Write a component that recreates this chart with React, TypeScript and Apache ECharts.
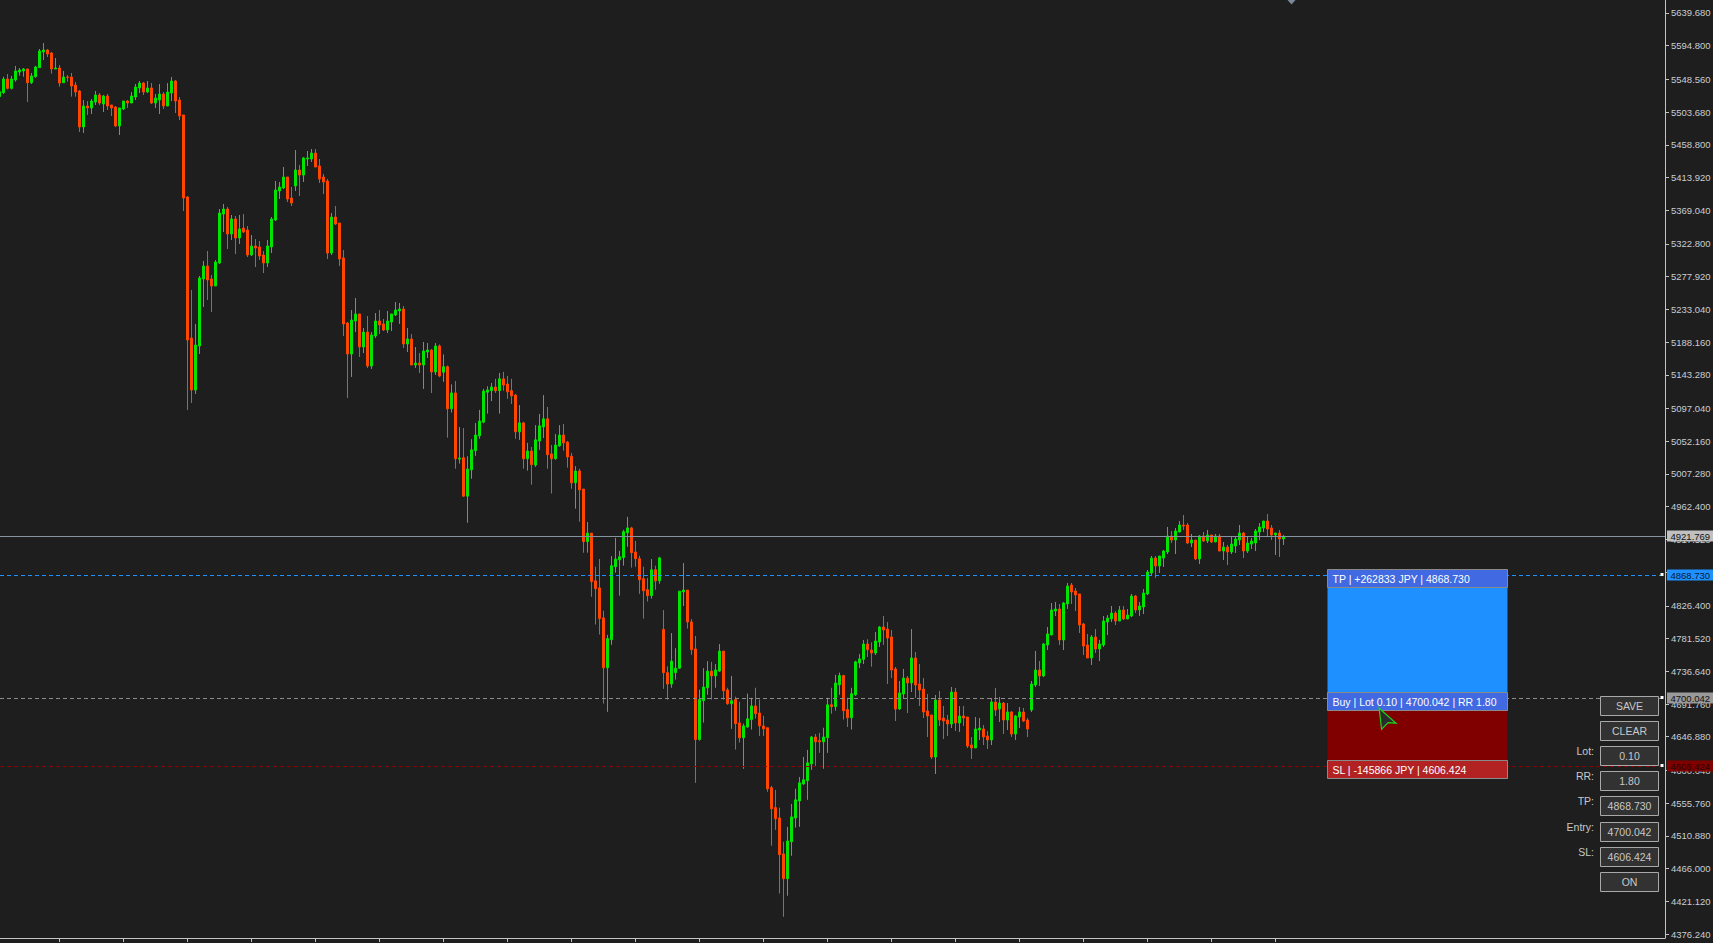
import React, { useEffect, useRef } from "react";
import * as echarts from "echarts";

// ---- candle data (bar index = position in arrays) ----
const OPEN = [
  5524.9, 5530.4, 5549.1, 5536.3, 5547.8, 5558.7, 5560.2, 5562.9, 5544.1, 5552.3,
  5564.7, 5586.2, 5588.9, 5584.8, 5562.9, 5564.2, 5544.1, 5551.9, 5551.9, 5540.9,
  5532.7, 5483.3, 5512.1, 5509.4, 5517.6, 5527.2, 5514.8, 5525.8, 5513.5, 5510.7,
  5484.7, 5508.0, 5518.9, 5516.2, 5524.4, 5536.8, 5543.6, 5531.3, 5536.8, 5516.2,
  5520.3, 5528.6, 5512.1, 5529.9, 5546.4, 5520.3, 5499.8, 5387.3, 5193.8, 5122.5,
  5182.9, 5274.8, 5292.6, 5274.8, 5265.2, 5296.7, 5363.9, 5370.8, 5336.5, 5357.1,
  5331.0, 5344.7, 5342.0, 5307.7, 5320.0, 5318.7, 5307.7, 5296.7, 5318.7, 5355.7,
  5395.5, 5399.6, 5414.7, 5385.9, 5402.4, 5424.3, 5417.4, 5439.4, 5439.4, 5447.6,
  5429.8, 5414.7, 5409.2, 5310.4, 5359.8, 5351.6, 5303.6, 5214.4, 5171.9, 5217.2,
  5226.8, 5181.5, 5202.0, 5155.4, 5196.6, 5217.2, 5213.1, 5204.8, 5215.8, 5225.4,
  5230.9, 5233.6, 5185.6, 5192.5, 5156.8, 5159.5, 5156.8, 5174.6, 5177.4, 5147.2,
  5182.9, 5146.9, 5154.5, 5096.7, 5118.5, 5027.7, 5029.7, 4976.9, 5013.0, 5039.3,
  5059.6, 5078.4, 5119.5, 5121.6, 5126.6, 5121.6, 5137.8, 5130.7, 5121.6, 5115.5,
  5065.2, 5077.4, 5028.2, 5038.8, 5019.5, 5052.5, 5071.8, 5083.0, 5034.8, 5028.2,
  5046.0, 5060.7, 5051.0, 5031.7, 4995.2, 5011.4, 4986.6, 4914.5, 4926.2, 4860.7,
  4851.0, 4809.9, 4741.4, 4780.0, 4880.0, 4889.6, 4892.7, 4926.7, 4933.3, 4900.3,
  4891.1, 4863.7, 4848.5, 4840.4, 4875.9, 4860.7, 4794.2, 4734.8, 4719.1, 4734.8,
  4740.9, 4845.5, 4848.0, 4804.4, 4767.3, 4643.0, 4696.3, 4714.0, 4736.9, 4730.3,
  4736.9, 4764.3, 4711.0, 4692.2, 4697.8, 4665.8, 4645.5, 4660.2, 4670.4, 4689.1,
  4679.5, 4661.7, 4659.2, 4577.0, 4549.6, 4535.4, 4486.1, 4452.1, 4502.9, 4535.4,
  4558.7, 4582.1, 4586.6, 4609.5, 4646.5, 4641.5, 4639.9, 4645.5, 4690.7, 4688.1,
  4718.1, 4730.8, 4684.1, 4672.9, 4704.4, 4748.0, 4753.0, 4774.1, 4765.8, 4761.7,
  4776.8, 4797.4, 4794.6, 4783.7, 4739.8, 4684.9, 4705.5, 4727.4, 4720.6, 4754.9,
  4719.2, 4712.3, 4682.2, 4676.7, 4619.0, 4697.2, 4672.5, 4669.8, 4664.3, 4708.2,
  4665.7, 4675.3, 4673.9, 4635.5, 4631.4, 4656.1, 4657.5, 4647.9, 4642.4, 4694.5,
  4684.9, 4693.1, 4669.8, 4680.8, 4650.6, 4673.9, 4680.8, 4669.8, 4683.5, 4717.8,
  4738.4, 4730.2, 4772.7, 4786.4, 4819.3, 4822.1, 4779.6, 4828.9, 4855.0, 4846.8,
  4842.7, 4801.5, 4772.7, 4754.9, 4783.7, 4767.2, 4772.7, 4804.2, 4808.4, 4816.6,
  4805.6, 4820.7, 4808.4, 4812.5, 4839.9, 4820.7, 4824.8, 4842.7, 4871.5, 4892.0,
  4881.1, 4892.0, 4900.3, 4922.2, 4916.7, 4927.7, 4937.3, 4937.3, 4912.6, 4916.7,
  4890.7, 4922.2, 4915.4, 4923.6, 4914.0, 4922.2, 4901.6, 4907.1, 4900.3, 4908.5,
  4916.7, 4926.3, 4901.6, 4911.2, 4912.6, 4927.7, 4933.2, 4942.8, 4933.2, 4923.6,
  4926.3, 4918.1,
];
const HIGH = [
  5534.0, 5552.3, 5556.0, 5553.3, 5567.0, 5564.2, 5564.2, 5562.9, 5557.4, 5567.0,
  5590.3, 5598.5, 5590.3, 5586.2, 5577.9, 5568.3, 5560.2, 5554.6, 5557.4, 5545.0,
  5534.0, 5520.3, 5518.9, 5521.7, 5532.7, 5529.9, 5527.2, 5528.6, 5513.5, 5512.1,
  5509.4, 5518.9, 5520.3, 5531.3, 5542.3, 5546.4, 5545.0, 5546.4, 5543.6, 5528.6,
  5542.3, 5531.3, 5543.6, 5551.9, 5547.8, 5524.4, 5499.8, 5388.6, 5259.7, 5213.1,
  5278.9, 5299.5, 5313.2, 5280.3, 5300.8, 5370.8, 5377.7, 5373.5, 5362.6, 5361.2,
  5362.6, 5363.9, 5347.5, 5335.1, 5329.6, 5326.9, 5313.2, 5328.3, 5359.8, 5409.2,
  5407.8, 5428.4, 5414.7, 5401.0, 5451.7, 5431.2, 5442.1, 5450.4, 5453.1, 5453.1,
  5439.4, 5418.8, 5411.9, 5365.3, 5374.9, 5351.6, 5314.5, 5215.8, 5232.2, 5248.7,
  5226.8, 5207.6, 5224.0, 5202.0, 5228.1, 5232.2, 5219.9, 5230.9, 5226.8, 5243.2,
  5241.8, 5237.7, 5207.6, 5199.3, 5181.5, 5173.2, 5188.4, 5187.0, 5178.7, 5187.0,
  5185.0, 5171.3, 5156.1, 5130.2, 5134.8, 5071.8, 5070.3, 5031.7, 5055.1, 5077.4,
  5095.2, 5124.1, 5127.6, 5132.2, 5137.8, 5145.9, 5147.4, 5141.9, 5137.8, 5117.0,
  5101.8, 5078.9, 5050.0, 5044.4, 5074.4, 5089.6, 5115.5, 5099.2, 5047.0, 5062.2,
  5074.4, 5075.9, 5052.5, 5036.3, 5018.0, 5014.5, 4986.6, 4941.4, 4926.2, 4880.0,
  4890.6, 4819.6, 4786.6, 4894.7, 4919.6, 4901.8, 4930.7, 4948.5, 4934.8, 4915.5,
  4895.2, 4880.0, 4864.7, 4890.6, 4881.5, 4893.7, 4820.6, 4743.5, 4789.1, 4768.3,
  4846.5, 4885.1, 4848.0, 4808.4, 4785.1, 4711.5, 4740.9, 4750.6, 4749.6, 4746.5,
  4773.9, 4764.3, 4714.0, 4730.3, 4701.8, 4694.7, 4664.8, 4705.9, 4700.3, 4714.0,
  4697.8, 4675.5, 4659.2, 4579.5, 4573.9, 4549.6, 4502.9, 4523.2, 4554.7, 4575.5,
  4591.7, 4619.1, 4628.8, 4648.0, 4650.6, 4652.1, 4659.2, 4700.3, 4714.0, 4731.8,
  4734.8, 4731.8, 4700.3, 4714.0, 4751.1, 4760.2, 4779.6, 4780.5, 4776.4, 4790.5,
  4798.8, 4812.5, 4804.2, 4793.3, 4742.5, 4723.3, 4739.8, 4730.2, 4794.6, 4763.1,
  4746.6, 4727.4, 4705.5, 4676.7, 4704.1, 4709.6, 4689.0, 4676.7, 4715.1, 4713.7,
  4689.0, 4689.0, 4673.9, 4646.5, 4673.9, 4672.5, 4662.9, 4654.7, 4700.0, 4713.7,
  4701.4, 4694.5, 4693.1, 4682.2, 4676.7, 4687.6, 4686.3, 4672.5, 4723.3, 4764.5,
  4750.7, 4775.4, 4797.4, 4830.3, 4831.7, 4828.9, 4831.7, 4857.8, 4857.8, 4850.9,
  4842.7, 4802.9, 4787.8, 4786.4, 4794.6, 4779.6, 4812.5, 4813.8, 4826.2, 4819.3,
  4826.2, 4826.2, 4822.1, 4842.7, 4841.3, 4831.7, 4849.5, 4875.6, 4894.8, 4894.8,
  4894.8, 4903.0, 4934.6, 4929.1, 4933.2, 4942.8, 4951.0, 4940.0, 4925.0, 4916.7,
  4923.6, 4927.7, 4930.5, 4923.6, 4925.0, 4925.0, 4914.0, 4909.9, 4920.9, 4920.9,
  4937.3, 4927.7, 4920.9, 4919.5, 4931.8, 4940.0, 4942.8, 4952.4, 4937.3, 4926.3,
  4930.5, 4923.6,
];
const LOW = [
  5523.0, 5528.6, 5534.9, 5534.9, 5545.5, 5553.7, 5552.3, 5517.6, 5542.3, 5551.0,
  5564.7, 5575.2, 5579.3, 5556.5, 5562.9, 5538.6, 5543.6, 5545.5, 5524.9, 5524.9,
  5476.4, 5475.1, 5499.8, 5501.1, 5513.5, 5513.5, 5503.9, 5506.6, 5498.4, 5483.3,
  5472.3, 5506.6, 5509.4, 5516.2, 5520.3, 5529.9, 5527.2, 5529.9, 5514.8, 5509.4,
  5501.1, 5508.0, 5512.1, 5518.9, 5502.5, 5492.9, 5368.1, 5095.1, 5104.7, 5117.0,
  5171.9, 5236.4, 5246.0, 5229.5, 5265.2, 5295.4, 5339.3, 5315.9, 5328.3, 5309.0,
  5322.8, 5337.9, 5304.9, 5306.3, 5291.2, 5300.8, 5283.0, 5291.2, 5310.4, 5354.3,
  5384.5, 5398.2, 5380.4, 5374.9, 5395.5, 5388.6, 5407.8, 5429.8, 5435.3, 5428.4,
  5406.5, 5391.4, 5302.2, 5307.7, 5348.9, 5292.6, 5196.6, 5111.5, 5140.4, 5202.0,
  5167.8, 5173.2, 5152.7, 5151.3, 5193.8, 5199.3, 5203.4, 5200.7, 5203.4, 5224.0,
  5213.1, 5180.1, 5174.6, 5156.8, 5152.7, 5145.8, 5123.9, 5166.4, 5118.4, 5143.1,
  5140.0, 5133.7, 5057.1, 5091.6, 5014.5, 5021.6, 4975.9, 4940.4, 5000.8, 5032.2,
  5055.6, 5076.9, 5090.1, 5107.3, 5118.5, 5090.1, 5121.6, 5110.4, 5103.3, 5055.6,
  5054.1, 5014.5, 5011.9, 4992.6, 5017.0, 5040.4, 5056.6, 5014.5, 4980.5, 5026.7,
  5044.4, 5039.3, 5016.0, 4987.1, 4959.7, 4941.9, 4899.3, 4899.3, 4838.9, 4800.8,
  4787.1, 4692.2, 4681.0, 4772.9, 4871.9, 4840.4, 4881.5, 4907.4, 4878.9, 4880.0,
  4842.9, 4808.9, 4832.3, 4836.3, 4848.5, 4856.6, 4712.5, 4697.8, 4714.0, 4725.2,
  4739.9, 4826.2, 4795.2, 4759.2, 4583.6, 4641.5, 4666.3, 4704.4, 4697.8, 4714.0,
  4735.8, 4697.8, 4690.7, 4657.7, 4629.3, 4638.9, 4602.9, 4659.2, 4656.7, 4671.9,
  4648.0, 4648.0, 4571.4, 4497.3, 4519.1, 4431.8, 4399.9, 4428.8, 4483.6, 4522.2,
  4523.2, 4581.1, 4560.3, 4601.3, 4606.9, 4624.7, 4602.9, 4624.7, 4678.5, 4682.5,
  4704.4, 4670.4, 4660.2, 4656.7, 4702.8, 4740.9, 4746.6, 4756.2, 4743.0, 4758.9,
  4770.0, 4772.7, 4719.2, 4727.4, 4668.4, 4683.5, 4698.6, 4679.4, 4708.2, 4700.0,
  4689.0, 4672.5, 4646.5, 4616.3, 4595.7, 4661.6, 4643.7, 4647.9, 4658.8, 4654.7,
  4653.4, 4661.6, 4631.4, 4616.3, 4631.4, 4642.4, 4635.5, 4630.0, 4635.5, 4675.3,
  4667.1, 4650.6, 4656.1, 4646.5, 4642.4, 4658.8, 4667.1, 4646.5, 4680.8, 4715.1,
  4716.4, 4728.8, 4765.8, 4786.4, 4812.5, 4772.7, 4765.8, 4822.1, 4828.9, 4819.3,
  4789.2, 4758.9, 4754.9, 4745.3, 4761.7, 4750.7, 4770.0, 4786.4, 4804.2, 4800.1,
  4805.6, 4807.0, 4808.4, 4811.1, 4816.6, 4812.5, 4815.2, 4841.3, 4867.4, 4864.6,
  4871.5, 4879.7, 4897.5, 4912.6, 4897.5, 4927.7, 4930.5, 4911.2, 4907.1, 4889.3,
  4883.8, 4914.0, 4912.6, 4912.6, 4914.0, 4901.6, 4889.3, 4882.4, 4897.5, 4898.9,
  4909.9, 4892.0, 4898.9, 4904.4, 4901.6, 4916.7, 4927.7, 4920.9, 4916.7, 4896.2,
  4893.4, 4909.9,
];
const CLOSE = [
  5531.8, 5549.1, 5536.3, 5549.1, 5560.2, 5561.5, 5562.9, 5544.1, 5553.3, 5565.6,
  5587.6, 5588.9, 5583.4, 5562.9, 5564.2, 5543.6, 5551.9, 5551.4, 5539.5, 5531.3,
  5483.3, 5512.1, 5509.4, 5518.9, 5527.2, 5516.2, 5525.8, 5512.1, 5509.4, 5484.7,
  5509.4, 5518.9, 5516.2, 5525.8, 5538.2, 5543.6, 5531.3, 5536.8, 5516.2, 5523.1,
  5528.6, 5512.1, 5531.3, 5546.4, 5518.9, 5498.4, 5385.9, 5191.1, 5122.5, 5184.2,
  5276.2, 5292.6, 5273.4, 5265.2, 5298.1, 5365.3, 5370.8, 5336.5, 5357.1, 5331.0,
  5343.4, 5339.3, 5307.7, 5320.0, 5317.3, 5306.3, 5296.7, 5320.0, 5357.1, 5396.9,
  5401.0, 5414.7, 5384.5, 5379.0, 5424.3, 5417.4, 5440.8, 5440.8, 5447.6, 5428.4,
  5411.9, 5407.8, 5310.4, 5359.8, 5350.2, 5302.2, 5213.1, 5171.9, 5218.5, 5226.8,
  5181.5, 5202.0, 5155.4, 5197.9, 5217.2, 5211.7, 5204.8, 5217.2, 5226.8, 5232.2,
  5233.6, 5185.6, 5192.5, 5156.8, 5159.5, 5156.8, 5176.0, 5177.4, 5147.2, 5182.9,
  5141.7, 5154.5, 5096.7, 5118.5, 5028.2, 5029.2, 4976.9, 5014.0, 5040.4, 5060.7,
  5079.9, 5121.0, 5122.6, 5126.6, 5121.6, 5137.8, 5129.2, 5120.0, 5114.5, 5065.2,
  5077.4, 5028.2, 5038.8, 5020.1, 5054.1, 5073.3, 5083.0, 5033.8, 5028.2, 5047.0,
  5060.7, 5050.0, 5030.7, 4995.2, 5011.4, 4985.5, 4914.5, 4926.2, 4859.7, 4850.0,
  4808.9, 4741.4, 4781.5, 4881.5, 4890.6, 4893.7, 4928.2, 4933.3, 4899.3, 4891.1,
  4862.2, 4847.0, 4840.4, 4875.9, 4860.7, 4892.2, 4734.8, 4719.1, 4750.6, 4740.9,
  4846.5, 4848.0, 4804.4, 4766.3, 4643.0, 4697.8, 4715.0, 4736.9, 4730.3, 4738.4,
  4764.3, 4710.0, 4692.2, 4696.3, 4664.8, 4645.5, 4661.7, 4671.4, 4689.1, 4678.5,
  4661.7, 4657.7, 4575.5, 4548.1, 4534.4, 4485.1, 4452.1, 4503.9, 4536.9, 4560.3,
  4583.6, 4587.7, 4611.0, 4646.5, 4639.9, 4639.9, 4646.5, 4690.7, 4688.1, 4720.6,
  4730.8, 4682.5, 4672.9, 4705.9, 4749.6, 4753.6, 4774.1, 4766.3, 4761.7, 4778.2,
  4797.4, 4793.3, 4782.3, 4738.4, 4684.9, 4706.9, 4727.4, 4720.6, 4754.9, 4717.8,
  4710.9, 4680.8, 4675.3, 4619.0, 4697.2, 4669.8, 4668.4, 4664.3, 4708.2, 4665.7,
  4675.3, 4672.5, 4634.1, 4631.4, 4657.5, 4658.8, 4646.5, 4642.4, 4694.5, 4683.5,
  4693.1, 4669.8, 4680.8, 4650.6, 4675.3, 4680.8, 4668.4, 4657.5, 4719.2, 4738.4,
  4730.2, 4774.1, 4787.8, 4820.7, 4822.1, 4779.6, 4830.3, 4853.6, 4845.4, 4841.3,
  4800.1, 4771.3, 4754.9, 4783.7, 4767.2, 4774.1, 4805.6, 4809.7, 4816.6, 4805.6,
  4820.7, 4808.4, 4813.8, 4839.9, 4820.7, 4826.2, 4844.0, 4872.8, 4892.0, 4881.1,
  4894.8, 4901.6, 4922.2, 4916.7, 4929.1, 4937.3, 4935.9, 4912.6, 4916.7, 4890.7,
  4922.2, 4915.4, 4923.6, 4914.0, 4922.2, 4901.6, 4907.1, 4900.3, 4911.2, 4918.1,
  4926.3, 4901.6, 4912.6, 4915.4, 4929.1, 4934.6, 4942.8, 4931.8, 4923.6, 4926.3,
  4918.1, 4921.769,
];

// ---- axes ----
const Y_MIN = 4370.76;
const Y_MAX = 5657.51;
const X_MIN = 0.125;
const X_MAX = 416.375;
const Y_TICKS = [
  5639.68, 5594.8, 5548.56, 5503.68, 5458.8, 5413.92, 5369.04, 5322.8, 5277.92,
  5233.04, 5188.16, 5143.28, 5097.04, 5052.16, 5007.28, 4962.4, 4917.52, 4872.64,
  4826.4, 4781.52, 4736.64, 4691.76, 4646.88, 4600.64, 4555.76, 4510.88, 4466.0,
  4421.12, 4376.24,
];
const X_TICKS = [15, 31, 47, 63, 79, 95, 111, 127, 143, 159, 175, 191, 207, 223, 239, 255, 271, 287, 303, 319];

// ---- trade levels ----
const PRICE_BID = 4921.769;
const PRICE_TP = 4868.73;
const PRICE_ENTRY = 4700.042;
const PRICE_SL = 4606.424;
const BOX_FROM_BAR = 331.9;
const BOX_TO_BAR = 376.9;
const SHIFT_MARK_BAR = 323;
const CURSOR_BAR = 344.9;
const CURSOR_PRICE = 4686.0;

const TP_TEXT = "TP | +262833 JPY | 4868.730";
const ENTRY_TEXT = "Buy | Lot 0.10 | 4700.042 | RR 1.80";
const SL_TEXT = "SL | -145866 JPY | 4606.424";

const PANEL_LABELS = ["", "", "Lot:", "RR:", "TP:", "Entry:", "SL:", ""];
const PANEL_VALUES = ["SAVE", "CLEAR", "0.10", "1.80", "4868.730", "4700.042", "4606.424", "ON"];

const BG = "#1e1e1e";
const BULL = "#00e400";
const BEAR = "#ff4500";
const AXIS = "#c4c4c4";
const LABEL = "#c8cdd2";
const FONT = "'Liberation Sans', Arial, sans-serif";

export default function App() {
  const ref = useRef<HTMLDivElement>(null);

  useEffect(() => {
    document.body.style.margin = "0";
    document.body.style.background = BG;
    const chart = echarts.init(ref.current as HTMLDivElement, null, { renderer: "svg" });
    const candles = OPEN.map((o, i) => [i, o, CLOSE[i], LOW[i], HIGH[i]]);

    const hLine = (v: number, color: string, type: any) => ({
      yAxis: v,
      lineStyle: { color, type, width: 1 },
    });

    chart.setOption({
      animation: false,
      backgroundColor: BG,
      grid: { left: 0, top: 0, width: 1665, height: 938, containLabel: false, outerBoundsMode: "none" },
      xAxis: {
        type: "value",
        min: X_MIN,
        max: X_MAX,
        position: "bottom",
        axisLine: { show: true, lineStyle: { color: AXIS, width: 1 } },
        axisTick: { show: true, customValues: X_TICKS, length: 4, lineStyle: { color: AXIS } },
        axisLabel: { show: false },
        splitLine: { show: false },
      },
      yAxis: {
        type: "value",
        min: Y_MIN,
        max: Y_MAX,
        position: "right",
        scale: true,
        axisLine: { show: true, lineStyle: { color: AXIS, width: 1 } },
        axisTick: { show: true, customValues: Y_TICKS, length: 4, lineStyle: { color: AXIS } },
        axisLabel: {
          show: true,
          customValues: Y_TICKS,
          formatter: (v: number) => v.toFixed(3),
          color: LABEL,
          fontSize: 9.5,
          fontFamily: FONT,
          margin: 6,
        },
        splitLine: { show: false },
      },
      series: [
        {
          type: "candlestick",
          data: candles,
          barWidth: 2,
          itemStyle: {
            color: BULL,
            color0: BEAR,
            borderColor: BULL,
            borderColor0: BEAR,
            borderWidth: 1,
          },
          markLine: {
            silent: true,
            symbol: ["none", "none"],
            label: { show: false },
            emphasis: { disabled: true },
            data: [
              hLine(PRICE_BID, "#8593a1", "solid"),
              hLine(PRICE_TP, "#1e90ff", [4, 3]),
              hLine(PRICE_ENTRY, "#8c8c8c", [4, 3]),
              hLine(PRICE_SL, "#8b0000", [4, 3]),
            ],
          },
        },
      ],
    });

    const yp = (v: number) => chart.convertToPixel({ yAxisIndex: 0 }, v) as number;
    const xp = (v: number) => chart.convertToPixel({ xAxisIndex: 0 }, v) as number;

    const g: any[] = [];
    // trade box
    const xL = Math.round(xp(BOX_FROM_BAR)) + 0.5;
    const xR = Math.round(xp(BOX_TO_BAR)) + 0.5;
    const w = xR - xL;
    const yTP = yp(PRICE_TP);
    const yEn = yp(PRICE_ENTRY);
    const ySL = yp(PRICE_SL);
    const barH = 18;
    const top = (y: number) => Math.round(y - 6) + 0.5;
    g.push({ type: "rect", shape: { x: xL, y: top(yTP) + barH, width: w, height: top(yEn) - top(yTP) - barH }, style: { fill: "#1e90ff" }, z: 10 });
    g.push({ type: "rect", shape: { x: xL, y: top(yEn) + barH, width: w, height: top(ySL) - top(yEn) - barH }, style: { fill: "#800000" }, z: 10 });
    const bars: [number, string, string][] = [
      [yTP, "#4169e1", TP_TEXT],
      [yEn, "#4169e1", ENTRY_TEXT],
      [ySL, "#b22222", SL_TEXT],
    ];
    bars.forEach(([y, fill, text]) => {
      g.push({ type: "rect", shape: { x: xL, y: top(y), width: w, height: barH }, style: { fill, stroke: "#8a8a8a", lineWidth: 1 }, z: 11 });
      g.push({
        type: "text", x: xL + 5, y: top(y) + barH / 2 + 0.5, z: 12,
        style: { text, fill: "#ffffff", font: `10.5px ${FONT}`, textVerticalAlign: "middle", textAlign: "left" },
      });
    });

    // right-side price boxes
    const priceBoxes: [number, string, string][] = [
      [PRICE_BID, "#c0c0c0", "#111111"],
      [PRICE_TP, "#1e90ff", "#0a1a33"],
      [PRICE_ENTRY, "#9a9a9a", "#111111"],
      [PRICE_SL, "#800000", "#2a0000"],
    ];
    priceBoxes.forEach(([v, fill, tc]) => {
      const y = yp(v);
      g.push({ type: "rect", shape: { x: 1667, y: Math.round(y) - 5.5, width: 46, height: 11 }, style: { fill }, z: 20 });
      g.push({
        type: "text", x: 1670.5, y: Math.round(y) + 0.5, z: 21,
        style: { text: v.toFixed(3), fill: tc, font: `9.5px ${FONT}`, textVerticalAlign: "middle", textAlign: "left" },
      });
    });
    // small handles at line ends
    [PRICE_TP, PRICE_ENTRY, PRICE_SL].forEach((v) => {
      const y = Math.round(yp(v));
      g.push({ type: "rect", shape: { x: 1660.5, y: y - 2, width: 3, height: 3 }, style: { fill: "#ffffff" }, z: 20 });
    });

    // control panel
    PANEL_VALUES.forEach((val, i) => {
      const y0 = 696 + i * 25.1;
      g.push({ type: "rect", shape: { x: 1600.5, y: Math.round(y0) + 0.5, width: 58, height: 19 }, style: { fill: "#323232", stroke: "#a8a8a8", lineWidth: 1 }, z: 20 });
      g.push({
        type: "text", x: 1629.5, y: Math.round(y0) + 10, z: 21,
        style: { text: val, fill: "#c8c8c8", font: `10.5px ${FONT}`, textAlign: "center", textVerticalAlign: "middle" },
      });
      if (PANEL_LABELS[i]) {
        g.push({
          type: "text", x: 1594, y: Math.round(y0) + 5, z: 21,
          style: { text: PANEL_LABELS[i], fill: "#c8c8c8", font: `10.5px ${FONT}`, textAlign: "right", textVerticalAlign: "middle" },
        });
      }
    });

    // shift marker at top
    const sx = xp(SHIFT_MARK_BAR);
    g.push({ type: "polygon", shape: { points: [[sx - 4, 0], [sx + 4, 0], [sx, 4.5]] }, style: { fill: "#7b8896" }, z: 20 });

    // mouse cursor
    const cx = xp(CURSOR_BAR);
    const cy = yp(CURSOR_PRICE);
    g.push({
      type: "polygon",
      shape: { points: [[cx, cy], [cx + 17, cy + 15], [cx + 9, cy + 14.5], [cx + 2.5, cy + 21]] },
      style: { fill: "#2b2b2b", stroke: "#19d419", lineWidth: 1.2 },
      z: 30,
    });

    chart.setOption({ graphic: g });

    return () => chart.dispose();
  }, []);

  return <div ref={ref} style={{ position: "fixed", left: 0, top: 0, width: 1713, height: 943 }} />;
}
